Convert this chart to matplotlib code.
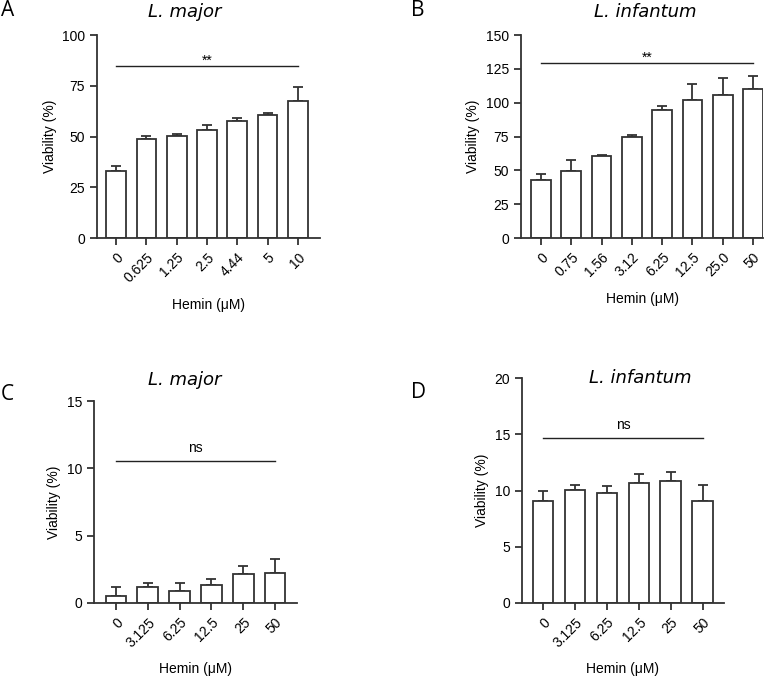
import matplotlib
matplotlib.use("Agg")
import matplotlib.pyplot as plt
import numpy as np

# Panel A - L. major
a_labels = ["0", "0.625", "1.25", "2.5", "4.44", "5", "10"]
a_mean = [33.0, 49.0, 50.3, 53.2, 57.7, 60.5, 67.7]
a_err = [2.5, 1.5, 0.7, 2.5, 1.3, 1.3, 6.5]

# Panel B - L. infantum
b_labels = ["0", "0.75", "1.56", "3.12", "6.25", "12.5", "25.0", "50"]
b_mean = [43.0, 49.5, 60.5, 74.7, 94.5, 102.0, 106.0, 110.0]
b_err = [4.0, 8.0, 0.7, 1.5, 3.0, 11.5, 12.0, 10.0]

# Panel C - L. major
c_labels = ["0", "3.125", "6.25", "12.5", "25", "50"]
c_mean = [0.55, 1.2, 0.9, 1.37, 2.13, 2.2]
c_err = [0.62, 0.25, 0.55, 0.4, 0.64, 1.03]

# Panel D - L. infantum
d_labels = ["0", "3.125", "6.25", "12.5", "25", "50"]
d_mean = [9.1, 10.05, 9.78, 10.64, 10.84, 9.1]
d_err = [0.9, 0.42, 0.65, 0.8, 0.83, 1.36]

plt.rcParams['font.family'] = ['Liberation Sans', 'DejaVu Sans']
EDGE = '#333333'


def bar_panel(ax, labels, mean, err, ymax, yticks, sig_y, sig_text, xlim):
    x = np.arange(len(labels))
    ax.bar(x, mean, width=0.65, color='white', edgecolor=EDGE, linewidth=1.3, zorder=2)
    ax.errorbar(x, mean, yerr=[np.zeros(len(err)), err], fmt='none', ecolor=EDGE,
                elinewidth=1.3, capsize=3.5, capthick=1.3, zorder=1)
    ax.set_xlim(*xlim)
    ax.set_ylim(0, ymax)
    ax.set_yticks(yticks)
    ax.set_xticks(x)
    ax.set_xticklabels(labels, rotation=45, ha='right', rotation_mode='anchor')
    for s in ['top', 'right']:
        ax.spines[s].set_visible(False)
    for s in ['left', 'bottom']:
        ax.spines[s].set_color(EDGE)
        ax.spines[s].set_linewidth(1.3)
    ax.tick_params(direction='out', length=5, width=1.3, color=EDGE, labelsize=10)
    ax.tick_params(axis='x', pad=4)
    ax.set_ylabel('Viability (%)', fontsize=10)
    ax.set_xlabel('Hemin (\u03bcM)', fontsize=10, labelpad=9)
    # significance line across all groups
    ax.plot([x[0], x[-1]], [sig_y, sig_y], color='#222222', lw=1.0)
    off = 1 if sig_text == '**' else 6.5
    ax.annotate(sig_text, xy=((x[0] + x[-1]) / 2, sig_y), xytext=(0, off),
                textcoords='offset points', ha='center', va='baseline', fontsize=10)


fig = plt.figure(figsize=(7.75, 6.76), dpi=100)

axA = fig.add_axes([0.1252, 0.6479, 0.2877, 0.3003])
bar_panel(axA, a_labels, a_mean, a_err, 100, [0, 25, 50, 75, 100], 84.7, '**', (-0.63, 6.73))

axB = fig.add_axes([0.6723, 0.6479, 0.3123, 0.3003])
bar_panel(axB, b_labels, b_mean, b_err, 150, [0, 25, 50, 75, 100, 125, 150], 129.3, '**', (-0.66, 7.33))

axC = fig.add_axes([0.1213, 0.108, 0.2619, 0.2988])
bar_panel(axC, c_labels, c_mean, c_err, 15, [0, 5, 10, 15], 10.55, 'ns', (-0.69, 5.69))

axD = fig.add_axes([0.6735, 0.108, 0.2606, 0.3328])
bar_panel(axD, d_labels, d_mean, d_err, 20, [0, 5, 10, 15, 20], 14.65, 'ns', (-0.66, 5.66))

# titles and panel letters (figure coords)
title_kw = dict(fontsize=13, style='italic', family='DejaVu Sans', ha='center', va='center')
fig.text(185 / 775, 1 - 12 / 676, 'L. major', **title_kw)
fig.text(645 / 775, 1 - 12 / 676, 'L. infantum', **title_kw)
fig.text(185 / 775, 1 - 380 / 676, 'L. major', **title_kw)
fig.text(640 / 775, 1 - 378 / 676, 'L. infantum', **title_kw)

letter_kw = dict(fontsize=15, family='Open Sans', ha='left', va='center')
fig.text(1 / 775, 1 - 11 / 676, 'A', **letter_kw)
fig.text(411 / 775, 1 - 11 / 676, 'B', **letter_kw)
fig.text(1 / 775, 1 - 395 / 676, 'C', **letter_kw)
fig.text(411 / 775, 1 - 393 / 676, 'D', **letter_kw)

fig.savefig('out.png', dpi=100)
